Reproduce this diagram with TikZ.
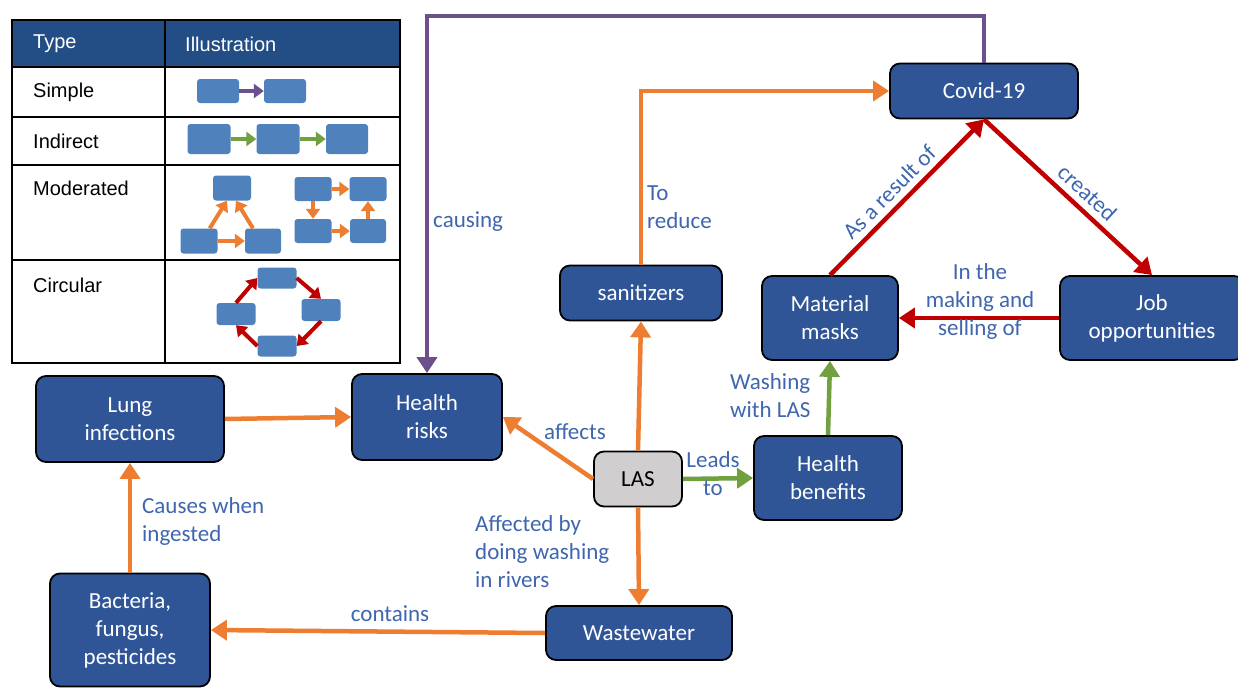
\documentclass[tikz,border=0pt]{standalone}
\usepackage{fontspec}
\setmainfont{Carlito}
\newfontfamily\arialfont{Liberation Sans}
\usetikzlibrary{arrows.meta}
\definecolor{boxblue}{HTML}{2F5597}
\definecolor{lblblue}{HTML}{3F66AE}
\definecolor{arrorange}{HTML}{ED7D31}
\definecolor{arrred}{HTML}{C00000}
\definecolor{arrgreen}{HTML}{70A040}
\definecolor{arrpurple}{HTML}{6C4F8C}
\definecolor{headblue}{HTML}{234D85}
\definecolor{miniblue}{HTML}{4F81BD}
\definecolor{lasgrey}{HTML}{D0CECE}
\newcommand\mapfont{\fontsize{23}{28}\selectfont}
\newcommand\tabfont{\arialfont\fontsize{20}{24}\selectfont}
\tikzset{
    box/.style={draw=black, line width=1.8pt, rounded corners=10pt, fill=boxblue, text=white,
        align=center, font=\mapfont, inner sep=0pt},
    lbl/.style={text=lblblue, font=\mapfont, align=left, inner sep=0pt},
    conn/.style={line width=4.5pt, -{Triangle[length=16pt,width=20pt]}},
    mini/.style={fill=miniblue, rounded corners=3pt, inner sep=0pt},
    miniconn/.style={line width=4pt, -{Triangle[length=10pt,width=14pt]}},
    cell/.style={font=\tabfont, anchor=west, inner sep=0pt}
}
\begin{document}
\begin{tikzpicture}[x=1pt, y=-1pt]
            \useasboundingbox[fill=white] (0,0) rectangle (1238,688);

            \fill[headblue] (12,20) rectangle (400,67);
            \draw[line width=2pt] (12,20) rectangle (400,363);
            \foreach \yy in {67,117,165,260} \draw[line width=2pt] (12,\yy) -- (400,\yy);
            \draw[line width=2pt] (165,20) -- (165,363);
            \node[cell, text=white] (ttype) at (33,44) {Type};
            \node[cell, text=white] (tillu) at (185,44) {Illustration};
            \node[cell] (tsimple) at (33,92) {Simple};
            \node[cell] (tindirect) at (33,141) {Indirect};
            \node[cell] (tmoderated) at (33,188) {Moderated};
            \node[cell] (tcircular) at (33,285) {Circular};

            \node[mini, minimum width=42, minimum height=24] (s1) at (218,91) {};
            \node[mini, minimum width=42, minimum height=24] (s2) at (285,91) {};
            \draw[miniconn, arrpurple] (s1) -- (s2);

            \node[mini, minimum width=43, minimum height=30] (i1) at (209,139) {};
            \node[mini, minimum width=43, minimum height=30] (i2) at (278,139) {};
            \node[mini, minimum width=42, minimum height=30] (i3) at (347,139) {};
            \draw[miniconn, arrgreen] (i1) -- (i2);
            \draw[miniconn, arrgreen] (i2) -- (i3);

            \node[mini, minimum width=38, minimum height=25] (ma) at (232,188) {};
            \node[mini, minimum width=37, minimum height=25] (mb) at (199,241) {};
            \node[mini, minimum width=36, minimum height=25] (mc) at (263,241) {};
            \draw[miniconn, arrorange] (mb) -- (mc);
            \draw[miniconn, arrorange] ([xshift=-8]mb.north east) -- ([xshift=-5]ma.south);
            \draw[miniconn, arrorange] ([xshift=-10]mc.north) -- ([xshift=4]ma.south);

            \node[mini, minimum width=37, minimum height=24] (q1) at (313,189) {};
            \node[mini, minimum width=37, minimum height=24] (q2) at (368,189) {};
            \node[mini, minimum width=37, minimum height=24] (q3) at (313,231) {};
            \node[mini, minimum width=36, minimum height=24] (q4) at (368,231) {};
            \draw[miniconn, arrorange] (q1) -- (q2);
            \draw[miniconn, arrorange] (q1) -- (q3);
            \draw[miniconn, arrorange] (q3) -- (q4);
            \draw[miniconn, arrorange] (q4) -- (q2);

            \node[mini, minimum width=39, minimum height=21] (c1) at (277,278) {};
            \node[mini, minimum width=39, minimum height=22] (c2) at (236,314) {};
            \node[mini, minimum width=39, minimum height=22] (c3) at (321,310) {};
            \node[mini, minimum width=39, minimum height=21] (c4) at (277,346) {};
            \draw[miniconn, arrred] (c2.north) -- (c1.west);
            \draw[miniconn, arrred] (c1.east) -- (c3.north);
            \draw[miniconn, arrred] (c3.south) -- (c4.east);
            \draw[miniconn, arrred] (c4.west) -- (c2.south);

            \node[box, minimum width=188, minimum height=55] (covid) at (984,91) {Covid-19};
            \node[box, minimum width=136, minimum height=84] (masks) at (830,318) {Material\\masks};
            \node[box, minimum width=184, minimum height=84] (jobs) at (1152,318) {Job\\opportunities};
            \node[box, minimum width=162, minimum height=55] (sanit) at (641,293) {sanitizers};
            \node[box, minimum width=150, minimum height=86] (risks) at (427,417) {Health\\risks};
            \node[box, minimum width=188, minimum height=86] (lung) at (130,419) {Lung\\infections};
            \node[box, fill=lasgrey, text=black, minimum width=88, minimum height=55] (las) at (638,479) {LAS};
            \node[box, minimum width=148, minimum height=84] (benefits) at (828,478) {Health\\benefits};
            \node[box, minimum width=186, minimum height=54] (waste) at (639,633) {Wastewater};
            \node[box, minimum width=160, minimum height=113] (bact) at (130,630) {Bacteria,\\fungus,\\pesticides};

            \coordinate (ctop) at (427,16);
            \draw[conn, arrpurple, line width=4pt] (covid.north) |- (ctop) -- (risks.north);
            \draw[conn, arrorange] (sanit.north) |- (covid.west);
            \draw[conn, arrorange] (lung.east) -- (risks.west);
            \draw[conn, arrorange] (las.west) -- (risks.east);
            \draw[conn, arrorange] (las.north) -- (sanit.south);
            \draw[conn, arrgreen] (las.east) -- (benefits.west);
            \draw[conn, arrorange] (las.south) -- (waste.north);
            \draw[conn, arrorange] (waste.west) -- (bact.east);
            \draw[conn, arrorange] (bact.north) -- (lung.south);
            \draw[conn, arrgreen] (benefits.north) -- (masks.south);
            \draw[conn, arrred] (jobs.west) -- (masks.east);
            \draw[conn, arrred] (masks.north) -- node[lbl, pos=0.46, sloped, above=6pt] (lresult) {As a result of} (covid.south);
            \draw[conn, arrred] (covid.south) -- node[lbl, pos=0.55, sloped, above=6pt] (lcreated) {created} (jobs.north);

            \node[lbl, anchor=west] (lcausing) at (433,222) {causing};
            \node[lbl, anchor=west] (lreduce) at (647,207) {To\\reduce};
            \node[lbl, align=center] (lmaking) at (980,301) {In the\\making and\\selling of};
            \node[lbl, anchor=west] (lwashing) at (730,396) {Washing\\with LAS};
            \node[lbl] (laffects) at (575,432) {affects};
            \node[lbl, align=center] (lleads) at (713,474) {Leads\\to};
            \node[lbl, anchor=west] (laffected) at (475,552) {Affected by\\doing washing\\in rivers};
            \node[lbl] (lcontains) at (390,614) {contains};
            \node[lbl, anchor=west] (lcauses) at (142,521) {Causes when\\ingested};
\end{tikzpicture}
\end{document}
